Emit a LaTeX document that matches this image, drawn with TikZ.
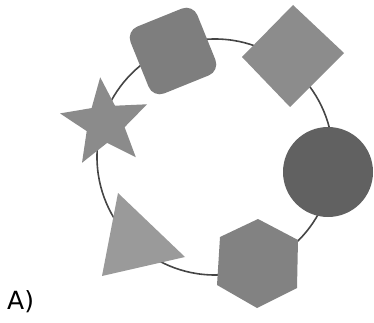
\documentclass[tikz,border=0pt]{standalone}
\usepackage{fontspec}
\setmainfont{DejaVu Sans}
\definecolor{ringc}{HTML}{454545}
\definecolor{sqc}{HTML}{7E7E7E}
\definecolor{diac}{HTML}{8C8C8C}
\definecolor{circc}{HTML}{616161}
\definecolor{hexc}{HTML}{828282}
\definecolor{tric}{HTML}{9A9A9A}
\definecolor{starc}{HTML}{8B8B8B}
\begin{document}
\begin{tikzpicture}[x=1pt,y=-1pt]
\useasboundingbox (0,0) rectangle (374,323);
% ring
\draw[ringc, line width=1.6pt] (215,157) circle[radius=118pt];
% rounded square
\fill[sqc, rounded corners=12pt] (192.9,4.1) -- (219.9,70.9) -- (153.1,97.9) -- (126.1,31.1) -- cycle;
% diamond
\fill[diac] (293,5) -- (344,53) -- (290,107) -- (242,57) -- cycle;
% dark circle
\fill[circc] (328,172) circle[radius=45pt];
% hexagon
\fill[hexc] (258,219) -- (298,240) -- (297,288) -- (257,308) -- (217,285) -- (220,237) -- cycle;
% triangle
\fill[tric] (118,193) -- (185,257) -- (102,276) -- cycle;
% star
\fill[starc] (100.2,77.3) -- (115,105.7) -- (147,104.3) -- (124.6,127.2) -- (135.8,157.2) -- (107.1,142.9) -- (82,162.8) -- (86.7,131.1) -- (60,113.4) -- (91.6,108.1) -- cycle;
% label
\node[anchor=base west, inner sep=0pt, font=\fontsize{25}{30}\selectfont] (lbl) at (7,309) {A)};
\end{tikzpicture}
\end{document}
